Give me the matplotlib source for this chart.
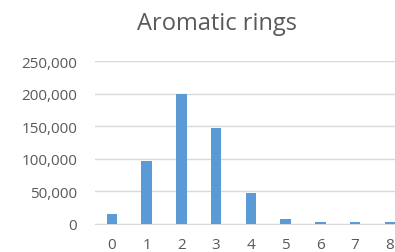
import matplotlib
matplotlib.use('Agg')
import matplotlib.pyplot as plt
from matplotlib.ticker import FuncFormatter

rings = [0, 1, 2, 3, 4, 5, 6, 7, 8]
counts = [14500, 96500, 200000, 147000, 47000, 7200, 2500, 2500, 2500]

BAR = '#5B9BD5'
GRID = '#D9D9D9'
TXT = '#595959'

plt.rcParams['font.family'] = ['Open Sans', 'DejaVu Sans']

fig = plt.figure(figsize=(3.95, 2.53), dpi=100)
ax = fig.add_axes([94.6 / 395, 0.1119, 1 - 94.6 / 395, 0.6419])

ax.bar(rings, counts, width=0.3, color=BAR, zorder=3)

ax.set_xlim(-0.5, 8.15)
ax.set_ylim(0, 250000)
ax.set_yticks([0, 50000, 100000, 150000, 200000, 250000])
ax.yaxis.set_major_formatter(FuncFormatter(lambda v, p: '{:,.0f}'.format(v)))
ax.set_xticks(rings)
ax.grid(axis='y', color=GRID, linewidth=1, zorder=0)
ax.set_axisbelow(True)

for s in ['top', 'right', 'left']:
    ax.spines[s].set_visible(False)
ax.spines['bottom'].set_color(GRID)
ax.tick_params(axis='both', length=0, colors=TXT, labelsize=11)
ax.tick_params(axis='y', pad=12.5)
ax.tick_params(axis='x', pad=9.5)

fig.text(217 / 395, 0.905, 'Aromatic rings', ha='center', va='center',
         fontsize=17, color=TXT)

fig.savefig('out.png', dpi=100)
